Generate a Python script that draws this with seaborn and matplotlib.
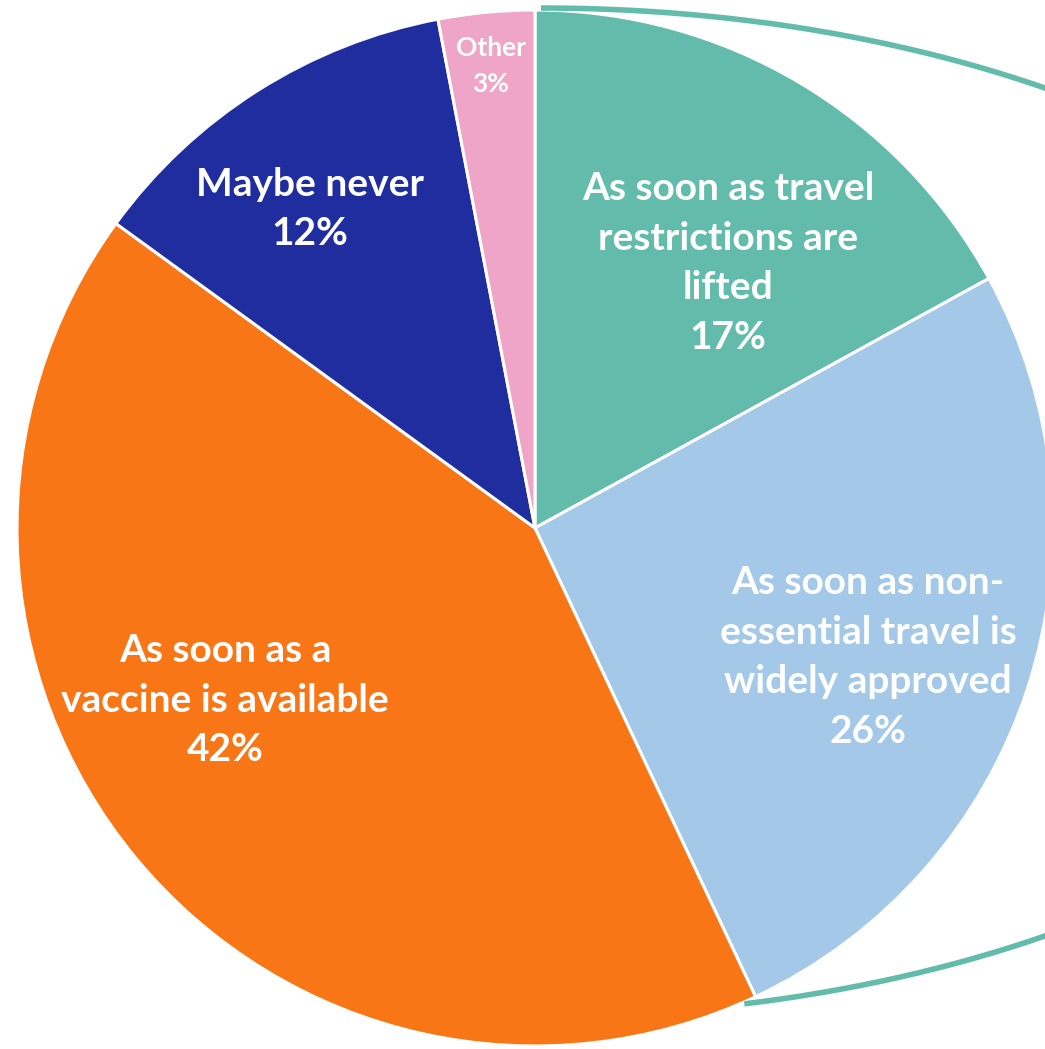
import numpy as np
import matplotlib
matplotlib.use("Agg")
import matplotlib.pyplot as plt
import seaborn as sns

# Survey answers: when would you travel again?
categories = [
    "As soon as travel\nrestrictions are\nlifted",
    "As soon as non-\nessential travel is\nwidely approved",
    "As soon as a\nvaccine is available",
    "Maybe never",
    "Other",
]
shares = [17, 26, 42, 12, 3]
colors = ["#63BCAB", "#A3C8E8", "#F97616", "#202D9E", "#EEA5C7"]

sns.set_theme(style="white")
plt.rcParams["font.family"] = ["Lato", "DejaVu Sans"]
palette = sns.color_palette(colors)

W, H = 1045, 1049
fig = plt.figure(figsize=(W / 100, H / 100), dpi=100)
ax = fig.add_axes([0, 0, 1, 1])

cx, cy, R = 535, 521, 518
wedges, _ = ax.pie(
    shares, colors=palette, startangle=90, counterclock=False,
    center=(cx, cy), radius=R, frame=True,
    wedgeprops=dict(edgecolor="white", linewidth=2.2),
)
ax.set_xlim(0, W)
ax.set_ylim(0, H)
ax.set_aspect("equal")
ax.axis("off")

# Bracket outline around the first two slices
t = np.radians(np.linspace(-77.4, 90, 400))
ex, ey, ea, eb = 541, 537, 932, 504
ax.plot(ex + ea * np.cos(t), ey + eb * np.sin(t), color="#63BCAB",
        lw=4.0, solid_capstyle="butt", clip_on=False)

# Slice labels
label_pos = [(728, 1049 - 263), (868, 1049 - 657), (225, 1049 - 700),
             (310, 1049 - 209), (491, 1049 - 66)]
label_size = [28, 28, 28, 28, 19]
label_spacing = [1.5, 1.5, 1.5, 1.5, 1.55]
for name, val, (lx, ly), fs, ls in zip(categories, shares, label_pos,
                                         label_size, label_spacing):
    ax.text(lx, ly, f"{name}\n{val}%", ha="center", va="center",
            color="white", fontsize=fs, fontweight="bold", linespacing=ls)

fig.savefig("out.png", dpi=100)
